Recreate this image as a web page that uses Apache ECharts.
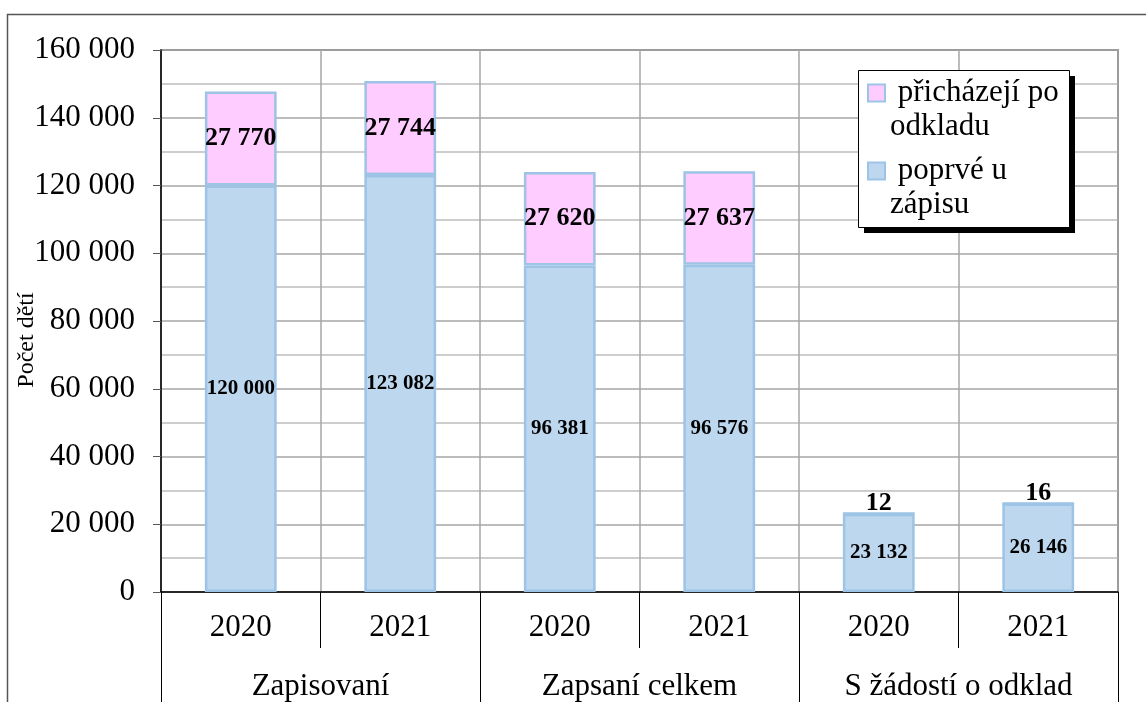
<!DOCTYPE html>
<html>
<head>
<meta charset="utf-8">
<script src="https://cdn.jsdelivr.net/npm/echarts@6/dist/echarts.min.js"></script>
<style>
  html, body { margin: 0; padding: 0; background: #fff; }
  #main { width: 1146px; height: 702px; }
</style>
</head>
<body>
<div id="main"></div>
<script>
// data
var years = ['2020', '2021', '2020', '2021', '2020', '2021'];
var groups = ['Zapisovaní', 'Zapsaní celkem', 'S žádostí o odklad'];
var poprve = [120000, 123082, 96381, 96576, 23132, 26146];
var poOdkladu = [27770, 27744, 27620, 27637, 12, 16];
var seriesNames = ['přicházejí po odkladu', 'poprvé u zápisu'];
var yTicks = { min: 0, max: 160000, step: 20000 };

var FONT = '"Liberation Serif", "Times New Roman", serif';

function fmt(v) {
  return String(v).replace(/\B(?=(\d{3})+(?!\d))/g, ' ');
}

// small values sit on top of the bar, the rest inside
var pinkData = poOdkladu.map(function (v) {
  if (v < 1000) {
    return { value: v, label: { position: 'top', distance: -4 } };
  }
  return v;
});

var myChart = echarts.init(document.getElementById('main'));

var option = {
  backgroundColor: '#fff',
  animation: false,
  graphic: [{
    // outer frame
    type: 'rect',
    shape: { x: 7.5, y: 14.5, width: 1160, height: 720 },
    style: { fill: 'none', stroke: '#555', lineWidth: 1.5 },
    z: -1
  }, {
    // legend shadow
    type: 'rect',
    shape: { x: 864, y: 76, width: 211, height: 157 },
    style: { fill: '#000' },
    z: 3
  }, {
    // legend box
    type: 'rect',
    shape: { x: 858.5, y: 70.5, width: 211, height: 157 },
    style: { fill: '#fff', stroke: '#000', lineWidth: 1 },
    z: 3
  }],
  grid: {
    left: 161, right: 28, top: 50, bottom: 110,
    outerBoundsMode: 'none',
    containLabel: false,
    show: true, borderColor: '#555', borderWidth: 1.5,
    backgroundColor: 'transparent'
  },
  legend: {
    orient: 'vertical',
    left: 867, top: 42,
    padding: 0,
    itemGap: -24,
    itemWidth: 17, itemHeight: 17,
    icon: 'rect',
    z: 5,
    data: [seriesNames[0], seriesNames[1]],
    // leading blank line keeps the marker level with the first text line
    formatter: function (name) {
      return name === seriesNames[0] ? '\n přicházejí po\nodkladu' : '\n poprvé u\nzápisu';
    },
    textStyle: { fontFamily: FONT, fontSize: 31, color: '#000', lineHeight: 34 }
  },
  xAxis: [{
    type: 'category',
    data: years,
    position: 'bottom',
    axisLine: { lineStyle: { color: '#000', width: 1.5 } },
    axisTick: { show: true, length: 56, lineStyle: { color: '#000' } },
    axisLabel: { fontFamily: FONT, fontSize: 31, color: '#000', margin: 20 },
    splitLine: { show: true, lineStyle: { color: '#a6a6a6', width: 1.5 } }
  }, {
    type: 'category',
    data: groups,
    position: 'bottom',
    axisLine: { show: false },
    axisTick: { show: true, length: 112, lineStyle: { color: '#000' } },
    axisLabel: { fontFamily: FONT, fontSize: 31, color: '#000', margin: 79 },
    splitLine: { show: false }
  }],
  yAxis: {
    type: 'value',
    min: yTicks.min,
    max: yTicks.max,
    interval: yTicks.step,
    name: 'Počet dětí',
    nameLocation: 'middle',
    nameRotate: 90,
    nameGap: 122,
    nameMoveOverlap: false,
    nameTextStyle: { fontFamily: FONT, fontSize: 24, color: '#000', padding: [0, 38, 0, 0] },
    axisLine: { show: true, lineStyle: { color: '#000', width: 1.5 } },
    axisTick: { show: true, length: 8, lineStyle: { color: '#555' } },
    axisLabel: { fontFamily: FONT, fontSize: 31, color: '#000', margin: 26, formatter: fmt },
    splitLine: { show: true, lineStyle: { color: '#a6a6a6', width: 1.5 } },
    minorTick: { show: false, splitNumber: 2 },
    minorSplitLine: { show: true, lineStyle: { color: '#bdbdbd', width: 1.5 } }
  },
  series: [{
    name: seriesNames[1],
    type: 'bar',
    stack: 'deti',
    xAxisIndex: 0,
    barWidth: '45%',
    data: poprve,
    itemStyle: { color: '#bdd7ee', borderColor: '#9dc3e6', borderWidth: 2.5 },
    label: {
      show: true, position: 'inside', formatter: function (p) { return fmt(p.value); },
      fontFamily: FONT, fontSize: 21, fontWeight: 'bold', color: '#000'
    }
  }, {
    name: seriesNames[0],
    type: 'bar',
    stack: 'deti',
    xAxisIndex: 0,
    barWidth: '45%',
    data: pinkData,
    itemStyle: { color: '#ffccff', borderColor: '#9dc3e6', borderWidth: 2.5 },
    label: {
      show: true, position: 'inside', formatter: function (p) { return fmt(p.value); },
      fontFamily: FONT, fontSize: 26, fontWeight: 'bold', color: '#000'
    }
  }]
};

myChart.setOption(option);
</script>
</body>
</html>
